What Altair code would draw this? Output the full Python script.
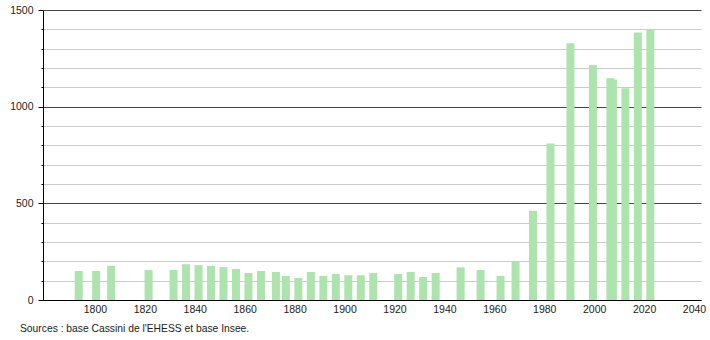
import altair as alt
import pandas as pd

years = [1793, 1800, 1806, 1821, 1831, 1836, 1841, 1846, 1851, 1856, 1861, 1866,
         1872, 1876, 1881, 1886, 1891, 1896, 1901, 1906, 1911, 1921, 1926, 1931,
         1936, 1946, 1954, 1962, 1968, 1975, 1982, 1990, 1999, 2006, 2007, 2012,
         2017, 2022]
population = [150, 150, 177, 155, 155, 185, 180, 176, 170, 160, 140, 150,
              145, 124, 114, 145, 124, 134, 128, 128, 140, 134, 145, 119,
              140, 169, 155, 124, 202, 461, 810, 1328, 1216, 1147, 1141, 1095,
              1383, 1400]
x_ticks = [1800, 1820, 1840, 1860, 1880, 1900, 1920, 1940, 1960, 1980, 2000, 2020, 2040]
y_ticks = list(range(0, 1600, 100))
source = "Sources : base Cassini de l'EHESS et base Insee."

df = pd.DataFrame({"year": years, "pop": population})
FONT = "Liberation Sans"

bars = alt.Chart(df).transform_calculate(
    pos="datum.year + 0.5"
).mark_bar(size=8, color="#ade3ad").encode(
    x=alt.X("pos:Q",
            scale=alt.Scale(domain=[1779.2, 2042.8], nice=False, zero=False, padding=0),
            axis=alt.Axis(values=x_ticks, title=None, grid=False, ticks=False,
                          format="d", labelFont=FONT, labelFontSize=10.5,
                          labelColor="#222", labelPadding=4,
                          domainColor="#000", domainWidth=1)),
    y=alt.Y("pop:Q",
            scale=alt.Scale(domain=[0, 1500], nice=False, padding=0),
            axis=alt.Axis(values=y_ticks, title=None, format="d",
                          labelExpr="datum.value % 500 === 0 ? datum.label : ''",
                          labelFont=FONT, labelFontSize=10.5, labelColor="#222",
                          labelPadding=5,
                          tickColor="#000",
                          tickSize={"condition": {"test": "datum.value % 500 === 0", "value": 5}, "value": 2},
                          gridColor={"condition": {"test": "datum.value % 500 === 0", "value": "#444444"}, "value": "#cccccc"},
                          gridWidth=1,
                          domainColor="#000", domainWidth=1)),
)

note = alt.Chart(pd.DataFrame({"t": [source]})).mark_text(
    align="left", baseline="alphabetic", font=FONT, fontSize=10.3, color="#222"
).encode(text="t:N", x=alt.value(-23), y=alt.value(322))

chart = alt.layer(bars, note).properties(
    width=658, height=290,
    padding={"left": 43, "top": 10, "right": 9, "bottom": 40},
    autosize="none",
    background="white",
).configure_view(stroke=None)

chart.save("out.html", embed_options={"renderer": "svg", "actions": False})
